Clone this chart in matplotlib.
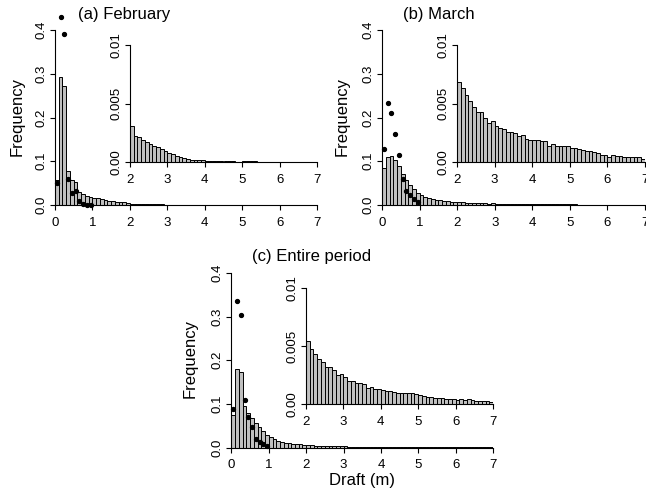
import numpy as np
import matplotlib
matplotlib.use("Agg")
from matplotlib import pyplot as plt

plt.rcParams['font.family'] = ['Liberation Sans', 'DejaVu Sans']

### Data: ice draft frequency, bins of 0.1 m ###
bin_width = 0.1
# 0.0 - 1.9 m
feb_head = [0.057, 0.293, 0.272, 0.078, 0.057, 0.053, 0.030, 0.025, 0.020, 0.018,
            0.017, 0.015, 0.013, 0.011, 0.010, 0.009, 0.008, 0.007, 0.006, 0.005]
mar_head = [0.084, 0.109, 0.112, 0.103, 0.090, 0.071, 0.057, 0.046, 0.036, 0.028,
            0.023, 0.019, 0.016, 0.014, 0.012, 0.011, 0.010, 0.009, 0.008, 0.0075]
all_head = [0.075, 0.180, 0.172, 0.096, 0.079, 0.067, 0.056, 0.046, 0.037, 0.029,
            0.024, 0.019, 0.015, 0.013, 0.011, 0.010, 0.009, 0.008, 0.007, 0.006]
# 2.0 - 6.9 m (also shown in the insets)
feb_tail = [0.0031, 0.0022, 0.0021, 0.0019, 0.0017, 0.00155, 0.0014, 0.00126, 0.00115, 0.00092,
            0.00075, 0.0007, 0.00054, 0.0004, 0.00032, 0.00023, 0.00017, 0.00017, 0.00017, 0.00017,
            0.0001, 0.0001, 0.0001, 0.0001, 0.0001, 0.0001, 0.0001, 0.00009, 0.00002, 0.00002,
            0.00011, 0.00011, 0.00011, 0.00005, 0.00003, 0.00003, 0.00003, 0.00003, 0.00003, 0.00003,
            0.00003, 0.00003, 0.00003, 0.00003, 0.00003, 0.00003, 0.00003, 0.00003, 0.00003, 0.00003]
mar_tail = [0.0068, 0.0063, 0.0057, 0.0052, 0.0047, 0.0043, 0.0043, 0.0038, 0.0033, 0.0035,
            0.0031, 0.0029, 0.0028, 0.0026, 0.0026, 0.0025, 0.0022, 0.0023, 0.0020, 0.0019,
            0.0019, 0.0019, 0.0018, 0.0018, 0.0014, 0.0015, 0.0014, 0.0014, 0.0014, 0.0014,
            0.0012, 0.0012, 0.0011, 0.0010, 0.0009, 0.0009, 0.00086, 0.0008, 0.00063, 0.00063,
            0.0004, 0.00057, 0.00052, 0.00055, 0.00046, 0.0004, 0.0004, 0.0004, 0.0004, 0.00026]
all_tail = [0.0054, 0.0047, 0.0043, 0.0039, 0.0036, 0.0032, 0.0032, 0.0029, 0.0025, 0.0026,
            0.0023, 0.0020, 0.0020, 0.0018, 0.0018, 0.0017, 0.0014, 0.0015, 0.0013, 0.0013,
            0.0012, 0.0011, 0.0011, 0.0010, 0.00097, 0.00097, 0.00091, 0.00091, 0.00091, 0.00086,
            0.00077, 0.00071, 0.00063, 0.00063, 0.00054, 0.00054, 0.00049, 0.00046, 0.0004, 0.0004,
            0.00034, 0.0004, 0.00034, 0.0004, 0.00034, 0.00029, 0.00029, 0.00029, 0.00029, 0.0002]
# points for the first metre (bin centres)
dot_x = [0.05, 0.15, 0.25, 0.35, 0.45, 0.55, 0.65, 0.75, 0.85, 0.95]
feb_dots = [0.051, 0.429, 0.39, 0.059, 0.028, 0.033, 0.009, 0.002, 0.001, 0.001]
mar_dots = [0.128, 0.234, 0.21, 0.162, 0.114, 0.059, 0.032, 0.023, 0.014, 0.008]
all_dots = [0.088, 0.335, 0.303, 0.109, 0.070, 0.047, 0.020, 0.012, 0.008, 0.004]

W, H = 646, 496
fig = plt.figure(figsize=(W / 100, H / 100), dpi=100)


def axes_px(left, top, right, bottom):
    # axes from pixel box (origin top-left)
    return fig.add_axes([left / W, 1 - bottom / H, (right - left) / W, (bottom - top) / H])


def r_style(ax):
    for s in ('top', 'right'):
        ax.spines[s].set_visible(False)
    for s in ('left', 'bottom'):
        ax.spines[s].set_linewidth(0.8)
    ax.tick_params(direction='out', length=3.5, width=0.8, labelsize=9.5)
    ax.tick_params(axis='x', pad=5)
    ax.tick_params(axis='y', pad=2)
    for lab in ax.get_yticklabels():
        lab.set_rotation(90)
        lab.set_va('center')


def bars(ax, start, vals):
    left = start + bin_width * np.arange(len(vals))
    ax.bar(left, vals, width=bin_width, align='edge', color='#c0c0c0',
           edgecolor='black', linewidth=0.7)


def panel(main_box, inset_box, head, tail, dots, title, title_xy, ylab_xy):
    ### Main histogram ###
    ax = axes_px(*main_box)
    bars(ax, 0.0, list(head) + list(tail))
    ax.plot(dot_x, dots, 'o', color='black', markersize=2.8, clip_on=False)
    ax.set_xlim(0, 7)
    ax.set_ylim(0, 0.4)
    ax.set_xticks(range(8))
    ax.set_yticks([0.0, 0.1, 0.2, 0.3, 0.4])
    ax.set_yticklabels(['0.0', '0.1', '0.2', '0.3', '0.4'])
    ax.patch.set_visible(False)
    r_style(ax)
    fig.text(title_xy[0] / W, 1 - title_xy[1] / H, title, fontsize=12, ha='left', va='center')
    fig.text(ylab_xy[0] / W, 1 - ylab_xy[1] / H, 'Frequency', fontsize=12,
             rotation=90, ha='center', va='center')

    ### Inset: 2 - 7 m ###
    ins = axes_px(*inset_box)
    bars(ins, 2.0, tail)
    ins.set_xlim(2, 7)
    ins.set_ylim(0, 0.01)
    ins.set_xticks(range(2, 8))
    ins.set_yticks([0.0, 0.005, 0.01])
    ins.set_yticklabels(['0.00', '0.005', '0.01'])
    ins.patch.set_visible(False)
    r_style(ins)
    return ax


panel((55, 30, 317, 205), (130, 45, 317, 162), feb_head, feb_tail, feb_dots,
      '(a) February', (78, 15), (17, 116))
panel((382, 30, 645, 205), (457, 45, 645, 162), mar_head, mar_tail, mar_dots,
      '(b) March', (403, 15), (342, 116))
ax_c = panel((231.5, 273, 493, 447.5), (306, 288, 493, 404), all_head, all_tail, all_dots,
             '(c) Entire period', (252, 257), (190, 359))
ax_c.set_xlabel('Draft (m)', fontsize=12, labelpad=1)

fig.savefig('out.png', dpi=100)
